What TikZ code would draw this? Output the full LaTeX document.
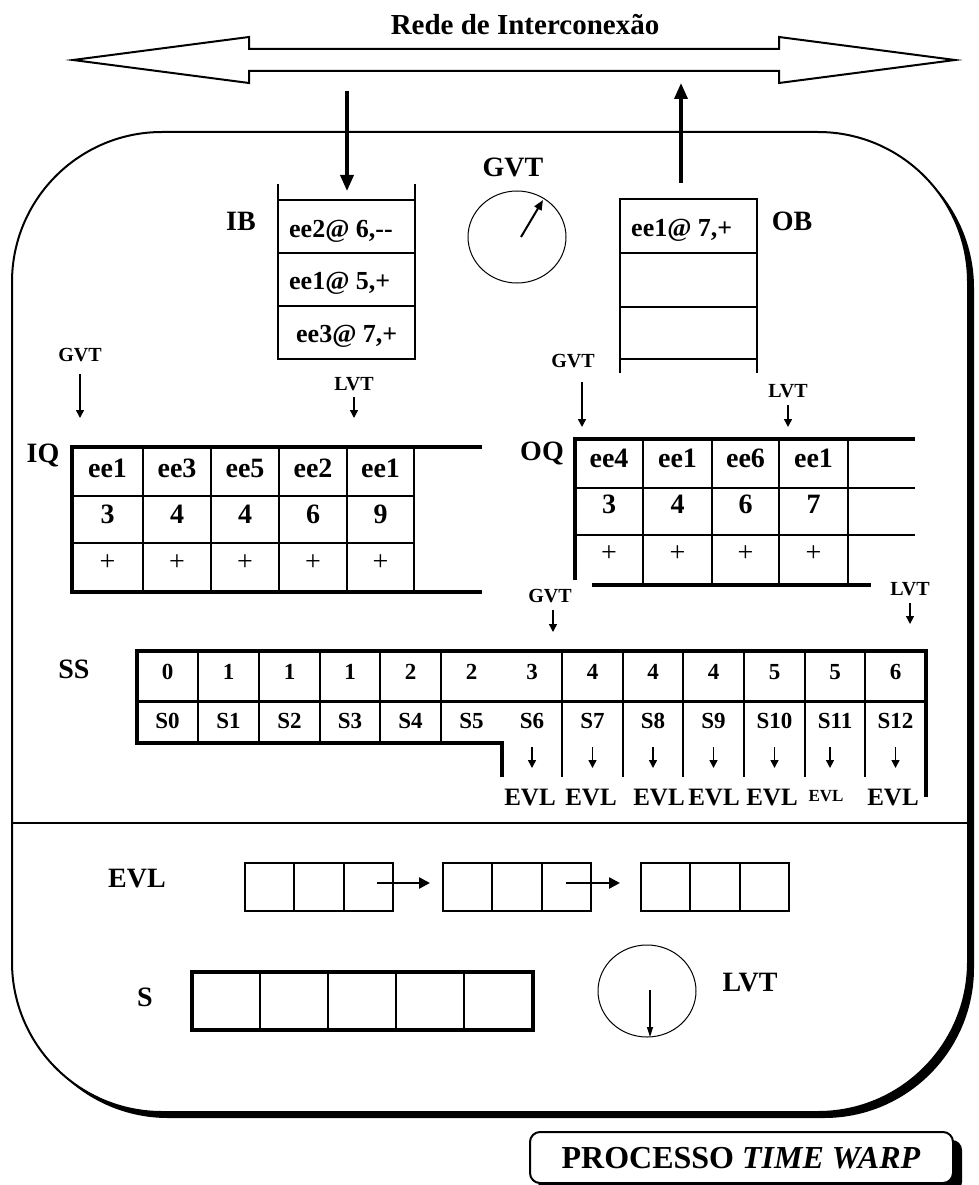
\documentclass[tikz,border=0pt]{standalone}
\usepackage{fontspec}
\setmainfont{Liberation Serif}
\usetikzlibrary{arrows.meta,shapes.geometric}

\tikzset{
  lbl/.style={font=\fontsize{28}{30}\selectfont\bfseries, inner sep=0pt, anchor=base},
  small/.style={font=\fontsize{20}{22}\selectfont\bfseries, inner sep=0pt, anchor=base},
  cell/.style={font=\fontsize{26}{28}\selectfont\bfseries, inner sep=0pt, anchor=base},
  qcell/.style={font=\fontsize{28}{30}\selectfont\bfseries, inner sep=0pt, anchor=base},
  plus/.style={font=\fontsize{28}{30}\selectfont, inner sep=0pt, anchor=base},
  sscell/.style={font=\fontsize{23}{25}\selectfont\bfseries, inner sep=0pt, anchor=base},
  evltxt/.style={font=\fontsize{25}{27}\selectfont\bfseries, inner sep=0pt, anchor=base},
  frame/.style={line width=4pt, line join=miter},
  grid/.style={line width=2pt},
  bufline/.style={line width=1.5pt},
  clock/.style={draw, ellipse, line width=1pt, minimum width=98pt, minimum height=92pt, inner sep=0pt},
  ptr/.style={line width=1.5pt, -{Triangle[length=8pt,width=8pt]}},
  bigptr/.style={line width=3.5pt, -{Triangle[length=16pt,width=13pt]}},
  chainptr/.style={line width=2.5pt, -{Triangle[length=11pt,width=11pt]}},
}

\begin{document}
\begin{tikzpicture}[x=1pt,y=-1pt]
\useasboundingbox (0,0) rectangle (978,1185);

% process body with its drop shadow
\fill[black, rounded corners=150pt] (18,138) rectangle (974,1118);
\draw[line width=2pt, fill=white, rounded corners=150pt] (12,132) rectangle (968,1112);

% interconnection network (double arrow)
\draw[line width=2pt, line join=miter, fill=white]
  (73,60) -- (249,37) -- (249,49) -- (779,49) -- (779,37) -- (955,60)
  -- (779,83) -- (779,71) -- (249,71) -- (249,83) -- cycle;
\node[font=\fontsize{29}{31}\selectfont\bfseries, inner sep=0pt, anchor=base] (net) at (525,35) {Rede de Interconexão};

% input buffer
\draw[bufline] (278,184) -- (278,359) -- (415,359) -- (415,184);
\foreach \y in {200,253,306} \draw[bufline] (278,\y) -- (415,\y);
\node[lbl] (ib) at (241,230) {IB};
\node[cell, anchor=base west] (ib1) at (289,237) {ee2@ 6,{-}{-}};
\node[cell, anchor=base west] (ib2) at (289,289) {ee1@ 5,+};
\node[cell, anchor=base west] (ib3) at (296,342) {ee3@ 7,+};
\coordinate (ibsrc) at (347,91);
\coordinate (ibin) at (347,191);
\draw[bigptr] (ibsrc) -- (ibin);

% output buffer
\draw[bufline] (620,373) -- (620,199) -- (757,199) -- (757,373);
\foreach \y in {253,307,359} \draw[bufline] (620,\y) -- (757,\y);
\node[lbl] (ob) at (792,230) {OB};
\node[cell, anchor=base west] (ob1) at (631,236) {ee1@ 7,+};
\coordinate (obsrc) at (681,183);
\coordinate (obout) at (681,83);
\draw[bigptr] (obsrc) -- (obout);

% GVT clock
\node[lbl] (gvtlbl) at (513,177) {GVT};
\node[clock] (gvtclock) at (517,237) {};
\coordinate (gvthub) at (521,237);
\coordinate (gvttip) at (543,200);
\draw[line width=2pt, -{Triangle[length=10pt,width=8pt]}] (gvthub) -- (gvttip);

% input queue
\node[lbl] (iq) at (43,462) {IQ};
\draw[frame] (482,447) -- (72,447) -- (72,592) -- (482,592);
\foreach \x in {143,211,279,347,414} \draw[grid] (\x,447) -- (\x,592);
\foreach \y in {496,543} \draw[grid] (72,\y) -- (414,\y);
\foreach \c/\e/\t [count=\i] in {107.5/ee1/3, 177/ee3/4, 245/ee5/4, 313/ee2/6, 380.5/ee1/9} {
  \node[qcell] (iqe\i) at (\c,477) {\e};
  \node[qcell] (iqt\i) at (\c,523) {\t};
  \node[plus] (iqs\i) at (\c,570) {+};
}
\node[small] (iqgvt) at (80,361) {GVT};
\coordinate (iqg1) at (80,374);
\coordinate (iqg2) at (80,418);
\draw[ptr] (iqg1) -- (iqg2);
\node[small] (iqlvt) at (354,390) {LVT};
\coordinate (iql1) at (354,397);
\coordinate (iql2) at (354,418);
\draw[ptr] (iql1) -- (iql2);

% output queue
\node[lbl] (oq) at (542,460) {OQ};
\draw[frame] (915,439) -- (575,439) -- (575,580);
\draw[frame] (592,585) -- (871,585);
\foreach \x in {643,712,779,848} \draw[grid] (\x,439) -- (\x,585);
\foreach \y in {488,535} \draw[grid] (575,\y) -- (915,\y);
\foreach \c/\e/\t [count=\i] in {609/ee4/3, 677.5/ee1/4, 745.5/ee6/6, 813.5/ee1/7} {
  \node[qcell] (oqe\i) at (\c,467) {\e};
  \node[qcell] (oqt\i) at (\c,513) {\t};
  \node[plus] (oqs\i) at (\c,561) {+};
}
\node[small] (oqgvt) at (573,367) {GVT};
\coordinate (oqg1) at (582,382);
\coordinate (oqg2) at (582,427);
\draw[ptr] (oqg1) -- (oqg2);
\node[small] (oqlvt) at (788,397) {LVT};
\coordinate (oql1) at (788,405);
\coordinate (oql2) at (788,427);
\draw[ptr] (oql1) -- (oql2);

% state queue
\node[lbl] (ss) at (74,678) {SS};
\node[small] (ssgvt) at (550,602) {GVT};
\coordinate (ssg1) at (553,610);
\coordinate (ssg2) at (553,632);
\draw[ptr] (ssg1) -- (ssg2);
\node[small] (sslvt) at (910,595) {LVT};
\coordinate (ssl1) at (910,603);
\coordinate (ssl2) at (910,624);
\draw[ptr] (ssl1) -- (ssl2);
\draw[frame] (502,777) -- (502,743) -- (137,743) -- (137,651) -- (926,651) -- (926,797);
\draw[line width=3pt] (137,701) -- (926,701);
\foreach \x in {198,259,320,380,441} \draw[grid] (\x,651) -- (\x,743);
\foreach \x in {562,623,683,744,805,865} \draw[grid] (\x,651) -- (\x,777);
\foreach \c/\t/\s [count=\i from 0] in {167.5/0/S0, 228.5/1/S1, 289.5/1/S2, 350/1/S3,
    410.5/2/S4, 471.5/2/S5, 532/3/S6, 592.5/4/S7, 653/4/S8, 713.5/4/S9,
    774.5/5/S10, 835/5/S11, 895.5/6/S12} {
  \node[sscell] (sst\i) at (\c,679) {\t};
  \node[sscell] (sss\i) at (\c,728) {\s};
}
\foreach \x [count=\i from 6] in {532,592.5,653,713.5,774.5,830,895.5} {
  \coordinate (ea\i) at (\x,747);
  \coordinate (eb\i) at (\x,768);
  \draw[ptr] (ea\i) -- (eb\i);
}
\foreach \x [count=\i from 6] in {530,591,659,714,772} \node[evltxt] (evl\i) at (\x,805) {EVL};
\node[font=\fontsize{17}{19}\selectfont\bfseries, inner sep=0pt, anchor=base] (evl11) at (826,801) {EVL};
\node[evltxt] (evl12) at (893,805) {EVL};

% divider between queues and local state
\draw[line width=2.5pt] (13,823) -- (967,823);

% event list
\node[lbl] (evllbl) at (137,887) {EVL};
\foreach \x [count=\i] in {245,443,641} {
  \draw[grid] (\x,863) rectangle (\x+148,911);
  \draw[grid] (\x+49,863) -- (\x+49,911);
  \draw[grid] (\x+99,863) -- (\x+99,911);
}
\coordinate (c1a) at (377,883);
\coordinate (c1b) at (430,883);
\draw[chainptr] (c1a) -- (c1b);
\coordinate (c2a) at (566,883);
\coordinate (c2b) at (620,883);
\draw[chainptr] (c2a) -- (c2b);

% state
\node[lbl] (slbl) at (145,1006) {S};
\draw[line width=4.5pt] (192,972) rectangle (533,1030);
\foreach \x in {260,328,396,464} \draw[grid] (\x,972) -- (\x,1030);

% LVT clock
\node[clock] (lvtclock) at (647,991) {};
\node[lbl] (lvtlbl) at (750,991) {LVT};
\coordinate (lvthub) at (650,990);
\coordinate (lvttip) at (650,1037);
\draw[line width=1.2pt, -{Triangle[length=10pt,width=6pt]}] (lvthub) -- (lvttip);

% caption box
\fill[black, rounded corners=10pt] (538,1140) rectangle (962,1192);
\draw[line width=2pt, fill=white, rounded corners=10pt] (530,1132) rectangle (953,1183);
\node[font=\fontsize{32}{34}\selectfont\bfseries, inner sep=0pt, anchor=base] (title) at (741,1168) {PROCESSO \textit{TIME WARP}};
\end{tikzpicture}
\end{document}
